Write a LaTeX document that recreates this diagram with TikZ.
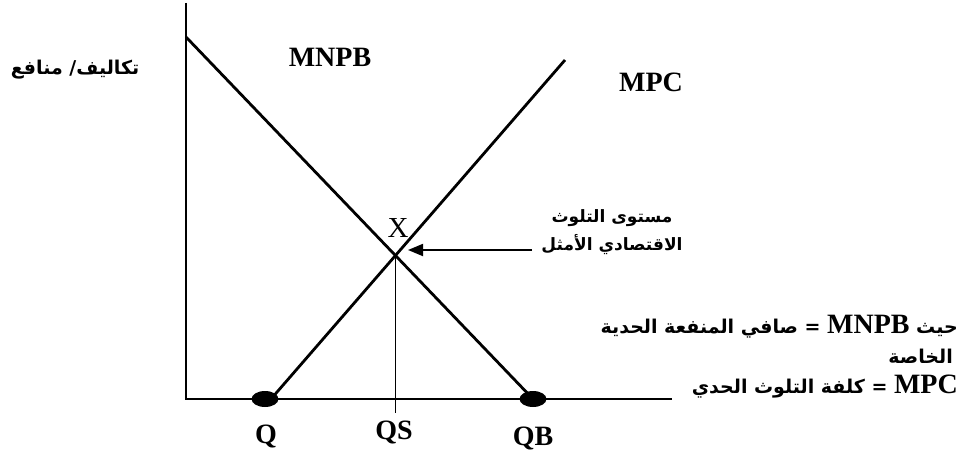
\documentclass[tikz,border=0pt]{standalone}
\usepackage{fontspec}
\setmainfont{Liberation Serif}
\newfontfamily\arabicfont[Script=Arabic]{DejaVu Sans}
\TeXXeTstate=1
\usetikzlibrary{arrows.meta,shapes.geometric,intersections}

\begin{document}
\begin{tikzpicture}[x=1pt,y=-1pt,
    axis/.style={line width=2.8pt,black},
    curve/.style={line width=2.8pt,black},
    guide/.style={line width=1.6pt,black},
    pt/.style={ellipse,fill=black,minimum width=27pt,minimum height=16pt,inner sep=0pt},
    lat/.style={font=\fontsize{28}{32}\selectfont\bfseries,inner sep=0pt},
    arb/.style={font=\arabicfont\fontsize{19}{28}\selectfont\bfseries,inner sep=0pt},
    arr/.style={-{Triangle[length=15pt,width=12pt]},line width=1.8pt},
  ]
    \useasboundingbox (0,0) rectangle (963,452);
    % axes
    \coordinate (o) at (186,399);
    \coordinate (ytop) at (186,3);
    \coordinate (xend) at (672,399);
    \draw[axis] (ytop) -- (o) -- (xend);
    \node[pt] (q) at (265,399) {};
    \node[pt] (qb) at (533,399) {};
    % curves
    \coordinate (bstart) at (186,37);
    \coordinate (cstart) at (271,399);
    \coordinate (cend) at (565,60);
    \draw[curve,name path=mnpb] (bstart) -- (qb.center);
    \draw[curve,name path=mpc] (cstart) -- (cend);
    \path[name intersections={of=mnpb and mpc,by=opt}];
    \coordinate (qsbase) at (0,413);
    \draw[guide] (opt) -- (opt |- qsbase);
    % arrow to optimum
    \coordinate (atail) at (532,250);
    \coordinate (ahead) at (408,250);
    \draw[arr] (atail) -- (ahead);
    % labels
    \node[lat] (lmnpb) at (330,57) {MNPB};
    \node[lat] (lmpc) at (651,82) {MPC};
    \node[font=\fontsize{29}{32}\selectfont,inner sep=0pt] (lx) at (398,228) {X};
    \node[lat] (lq) at (266,436) {Q};
    \node[lat] (lqs) at (394,432) {QS};
    \node[lat] (lqb) at (533,438) {QB};
    \node[arb] (ylab) at (75,70) {\beginR تكاليف/ منافع\endR};
    \node[arb,font=\arabicfont\fontsize{17}{28}\selectfont\bfseries,align=center] (optlab) at (612,232) {\beginR مستوى التلوث\endR\\\beginR الاقتصادي الأمثل\endR};
    % legend
    \node[arb,anchor=east] (leg1) at (958,327) {\beginR حيث \beginL{\rmfamily\fontsize{28}{32}\selectfont\bfseries MNPB}\endL{} = صافي المنفعة الحدية\endR};
    \node[arb,anchor=east] (leg2) at (953,356) {\beginR الخاصة\endR};
    \node[arb,anchor=east] (leg3) at (958,387) {\beginR\beginL{\rmfamily\fontsize{28}{32}\selectfont\bfseries MPC}\endL{} = كلفة التلوث الحدي\endR};
  \end{tikzpicture}
\end{document}
